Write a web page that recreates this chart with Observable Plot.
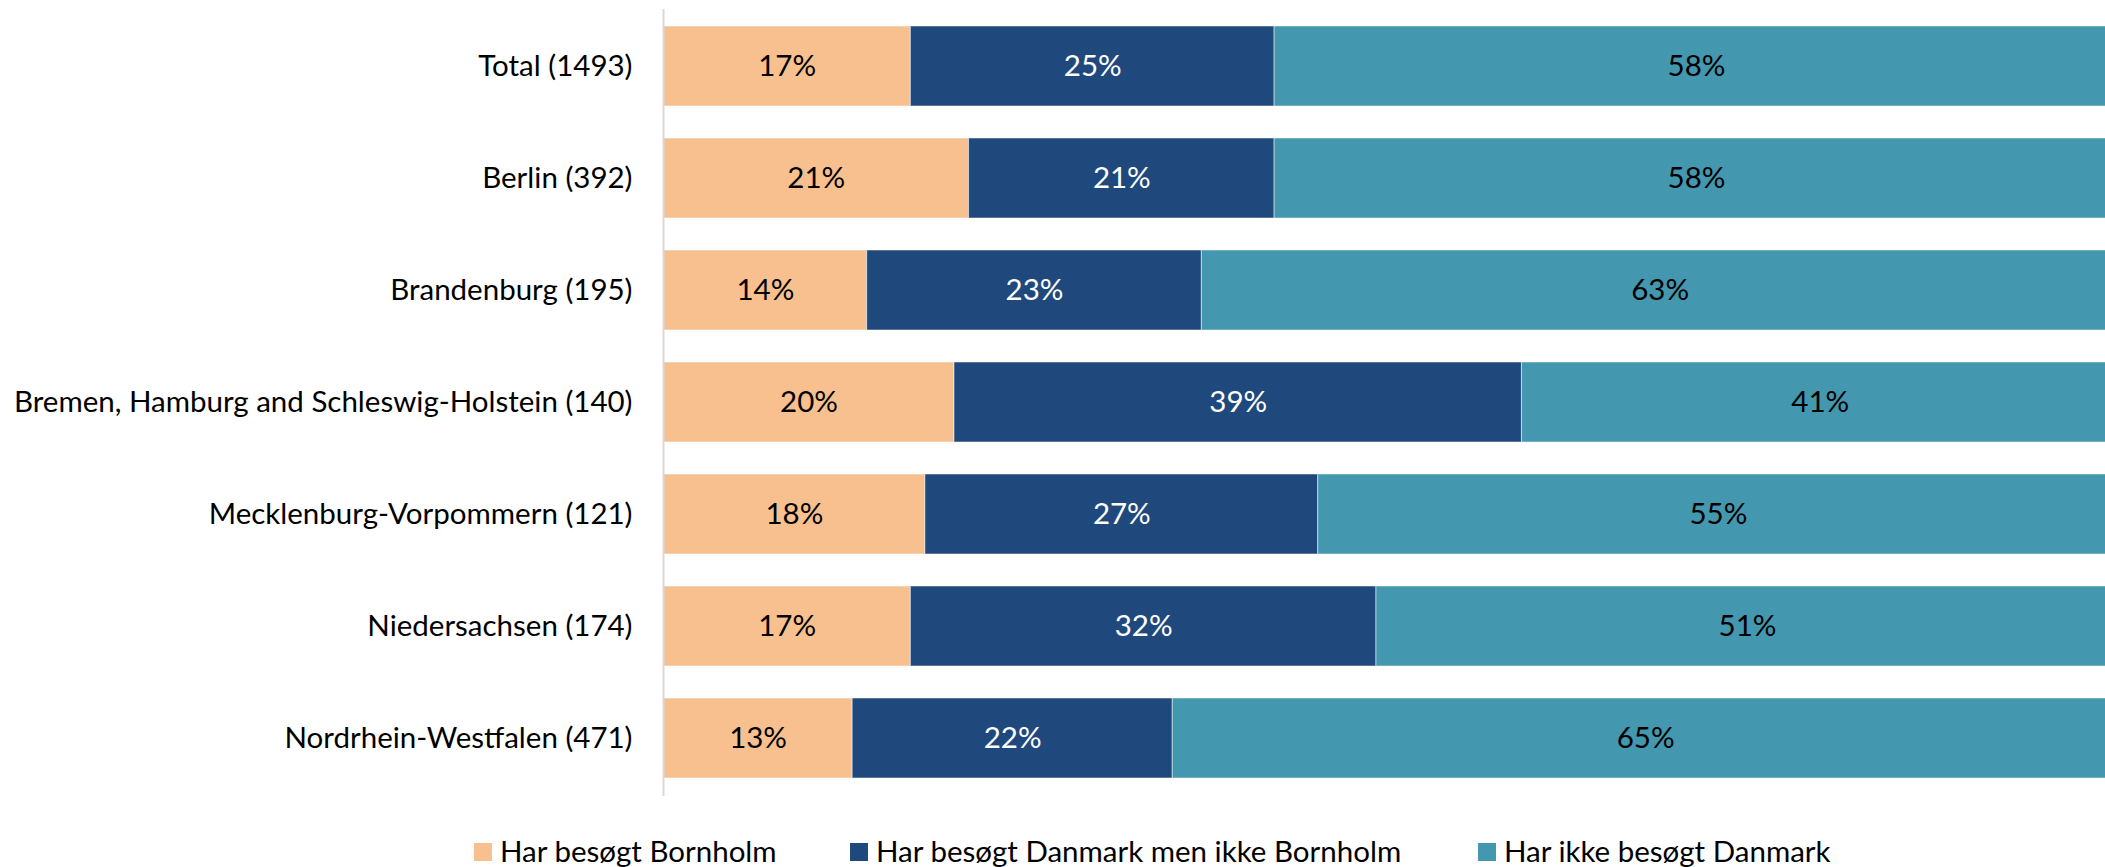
<!DOCTYPE html>
<html>
<head>
<meta charset="utf-8">
<script src="https://cdn.jsdelivr.net/npm/d3@7"></script>
<script src="https://cdn.jsdelivr.net/npm/@observablehq/plot@0.6"></script>
<style>
  html, body { margin: 0; padding: 0; background: #fff; }
  body { width: 2105px; height: 867px; overflow: hidden; font-family: Lato, sans-serif; }
  #legend { position: relative; height: 67px; width: 2105px; }
  .item { position: absolute; top: 0; height: 67px; }
  .sw { position: absolute; top: 43px; left: 0; width: 18px; height: 18px; }
  .lt { position: absolute; left: 26px; top: 32px; font-size: 29.5px; line-height: 38px; color: #000; white-space: nowrap; }
</style>
</head>
<body>
<div id="chart"></div>
<div id="legend"></div>
<script>
const categories = [
  "Total (1493)",
  "Berlin (392)",
  "Brandenburg (195)",
  "Bremen, Hamburg and Schleswig-Holstein (140)",
  "Mecklenburg-Vorpommern (121)",
  "Niedersachsen (174)",
  "Nordrhein-Westfalen (471)"
];
const seriesNames = ["Har besøgt Bornholm", "Har besøgt Danmark men ikke Bornholm", "Har ikke besøgt Danmark"];
const seriesColors = ["#F9C08F", "#1F497D", "#4397AE"];
const labelColors = ["#000000", "#ffffff", "#000000"];
const bornholm = [17, 21, 14, 20, 18, 17, 13];
const danmark = [25, 21, 23, 39, 27, 32, 22];
const ikkeDanmark = [58, 58, 63, 41, 55, 51, 65];

const seriesValues = [bornholm, danmark, ikkeDanmark];
const rows = [];
seriesNames.forEach((s, si) => {
  categories.forEach((c, ci) => {
    rows.push({cat: c, series: s, value: seriesValues[si][ci], si});
  });
});

const chart = Plot.plot({
  width: 2105,
  height: 800,
  marginTop: 9,
  marginBottom: 4,
  marginLeft: 663,
  marginRight: -13,
  style: {fontFamily: "Lato, sans-serif", fontSize: "29.5px", color: "#000", background: "#fff"},
  x: {domain: [0, 100], axis: null},
  y: {domain: categories, paddingInner: 0.2857, paddingOuter: 0.1429, label: null},
  color: {domain: seriesNames, range: seriesColors},
  marks: [
    Plot.barX(rows, Plot.stackX({
      x: "value", y: "cat", z: "series", fill: "series",
      stroke: "#ffffff", strokeWidth: 1, strokeOpacity: 0.5
    })),
    Plot.text(rows, Plot.stackX({
      x: "value", y: "cat", z: "series",
      text: d => d.value + "%",
      fill: d => labelColors[d.si],
      fontSize: 29.5
    })),
    Plot.ruleX([0], {stroke: "#d9d9d9", strokeWidth: 2}),
    Plot.axisY({tickSize: 0, tickPadding: 31, fontSize: 29.5, label: null})
  ]
});
document.getElementById("chart").appendChild(chart);

const legendLefts = [474, 850, 1478];
const legend = document.getElementById("legend");
seriesNames.forEach((s, i) => {
  const it = document.createElement("div");
  it.className = "item";
  it.style.left = legendLefts[i] + "px";
  const sw = document.createElement("div");
  sw.className = "sw";
  sw.style.background = seriesColors[i];
  const t = document.createElement("div");
  t.className = "lt";
  t.textContent = s;
  it.appendChild(sw);
  it.appendChild(t);
  legend.appendChild(it);
});
</script>
</body>
</html>
